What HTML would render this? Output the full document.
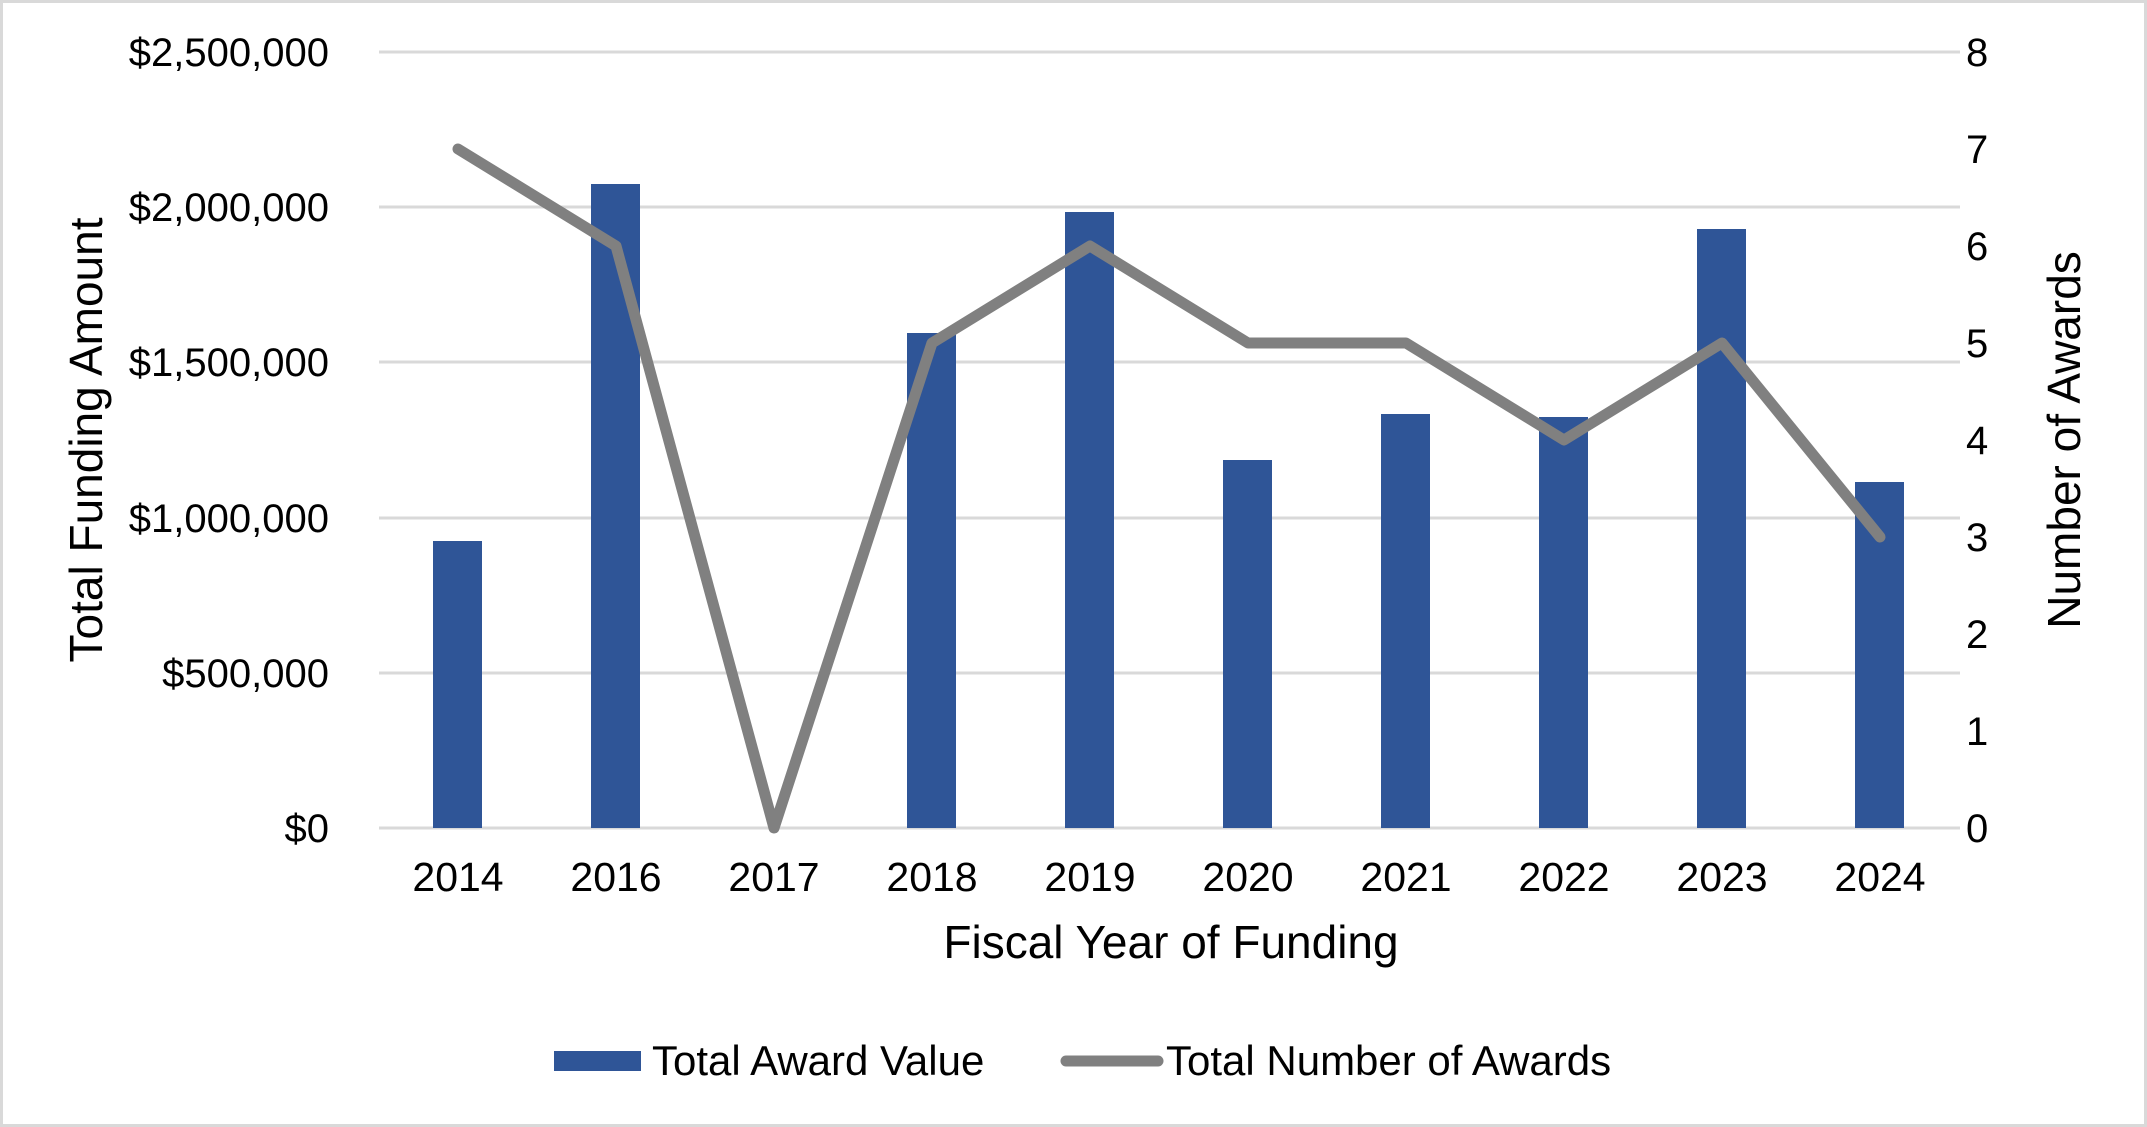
<!DOCTYPE html>
<html><head><meta charset="utf-8"><style>
html,body{margin:0;padding:0;background:#fff}
svg{display:block}
text{font-family:"Liberation Sans",Arial,sans-serif;fill:#000}
</style></head><body>
<svg width="2147" height="1127" viewBox="0 0 2147 1127">
<rect x="1.5" y="1.5" width="2144" height="1124" fill="#fff" stroke="#d9d9d9" stroke-width="3"/>
<g stroke="#d9d9d9" stroke-width="3">
<line x1="379" y1="52" x2="1960" y2="52"/>
<line x1="379" y1="207" x2="1960" y2="207"/>
<line x1="379" y1="362" x2="1960" y2="362"/>
<line x1="379" y1="518" x2="1960" y2="518"/>
<line x1="379" y1="673" x2="1960" y2="673"/>
<line x1="379" y1="828" x2="1960" y2="828"/>
</g>
<g fill="#2f5597">
<rect x="433" y="541" width="49" height="287"/>
<rect x="591" y="184" width="49" height="644"/>
<rect x="907" y="333" width="49" height="495"/>
<rect x="1065" y="212" width="49" height="616"/>
<rect x="1223" y="460" width="49" height="368"/>
<rect x="1381" y="414" width="49" height="414"/>
<rect x="1539" y="417" width="49" height="411"/>
<rect x="1697" y="229" width="49" height="599"/>
<rect x="1855" y="482" width="49" height="346"/>
</g>
<polyline fill="none" stroke="#808080" stroke-width="11" stroke-linecap="round" stroke-linejoin="round"
points="458,149 616,246 774,828 932,343 1090,246 1248,343 1406,343 1564,440 1722,343 1880,537"/>
<g font-size="40" text-anchor="end">
<text x="329" y="66">$2,500,000</text>
<text x="329" y="221">$2,000,000</text>
<text x="329" y="376">$1,500,000</text>
<text x="329" y="532">$1,000,000</text>
<text x="329" y="687">$500,000</text>
<text x="329" y="842">$0</text>
</g>
<g font-size="40">
<text x="1966" y="66">8</text>
<text x="1966" y="163">7</text>
<text x="1966" y="260">6</text>
<text x="1966" y="357">5</text>
<text x="1966" y="454">4</text>
<text x="1966" y="551">3</text>
<text x="1966" y="648">2</text>
<text x="1966" y="745">1</text>
<text x="1966" y="842">0</text>
</g>
<g font-size="41" text-anchor="middle">
<text x="458" y="891">2014</text>
<text x="616" y="891">2016</text>
<text x="774" y="891">2017</text>
<text x="932" y="891">2018</text>
<text x="1090" y="891">2019</text>
<text x="1248" y="891">2020</text>
<text x="1406" y="891">2021</text>
<text x="1564" y="891">2022</text>
<text x="1722" y="891">2023</text>
<text x="1880" y="891">2024</text>
</g>
<text x="1171" y="958" font-size="46" text-anchor="middle">Fiscal Year of Funding</text>
<text transform="translate(102,440) rotate(-90)" font-size="46" text-anchor="middle">Total Funding Amount</text>
<text transform="translate(2080,440) rotate(-90)" font-size="46" text-anchor="middle">Number of Awards</text>
<rect x="554" y="1051" width="87" height="20" fill="#2f5597"/>
<text x="652" y="1075" font-size="42">Total Award Value</text>
<line x1="1066" y1="1061" x2="1158" y2="1061" stroke="#808080" stroke-width="11" stroke-linecap="round"/>
<text x="1166" y="1075" font-size="42">Total Number of Awards</text>
</svg>
</body></html>
